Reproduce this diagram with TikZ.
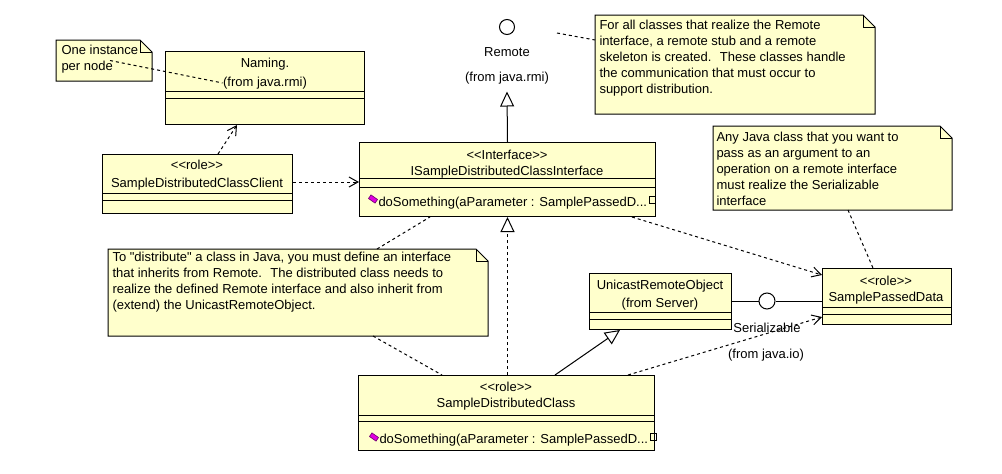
\documentclass[tikz,border=0pt]{standalone}
\usepackage{fontspec}
\newfontfamily\umlfont{Liberation Sans}
\usetikzlibrary{arrows.meta}
\definecolor{umlfill}{RGB}{255,255,204}
\definecolor{opfill}{RGB}{224,0,224}
\definecolor{opline}{RGB}{110,0,110}
% note with a folded top-right corner, drawn round an empty node
\newcommand{\umlnote}[1]{%
  \draw[fill=umlfill] (#1.north west) -- ([xshift=-12pt]#1.north east)
    -- ([yshift=-12pt]#1.north east) -- (#1.south east) -- (#1.south west) -- cycle;
  \draw ([xshift=-12pt]#1.north east) -- ([xshift=-12pt,yshift=-12pt]#1.north east)
    -- ([yshift=-12pt]#1.north east);}
% operation marker: small tilted magenta block
\newcommand{\opmark}[1]{%
  \draw[fill=opfill,draw=opline,line width=0.6pt,rotate around={-35:(#1)}]
    ([xshift=-4pt,yshift=-2.2pt]#1) rectangle ([xshift=4pt,yshift=2.2pt]#1);}
\begin{document}
\begin{tikzpicture}[x=1pt,y=-1pt,line width=1pt,
  font=\umlfont\fontsize{13}{16}\selectfont,
  classbox/.style={draw,fill=umlfill,inner sep=0pt,anchor=north west},
  notebody/.style={inner sep=0pt,anchor=north west},
  notetext/.style={inner sep=0pt,anchor=north west,align=left},
  lbl/.style={inner sep=0pt,text height=9pt,text depth=3pt},
  optext/.style={lbl,anchor=west},
  lolli/.style={draw,fill=white,circle,inner sep=0pt},
  depend/.style={dash pattern=on 3pt off 3pt,-{Straight Barb[length=9pt,width=10pt]}},
  anchorline/.style={dash pattern=on 3pt off 3pt},
  inherit/.style={-{Triangle[open,length=15pt,width=14pt,fill=white]}},
  realize/.style={dash pattern=on 3pt off 3pt,-{Triangle[open,length=15pt,width=14pt,fill=white]}},
]
\fill[white] (0,0) rectangle (1002,474);
\useasboundingbox (0,0) rectangle (1002,474);

% ---------- classes ----------
\node[classbox,minimum width=199pt,minimum height=73pt] (naming) at (165,51) {};
\draw (naming.west |- 0,91) -- (naming.east |- 0,91);
\draw (naming.west |- 0,98) -- (naming.east |- 0,98);
\node[lbl] (namingname) at (265,64) {Naming.};
\node[lbl] (namingpkg) at (265,83) {(from java.rmi)};

\node[classbox,minimum width=190pt,minimum height=59pt] (client) at (102,154) {};
\draw (client.west |- 0,193) -- (client.east |- 0,193);
\draw (client.west |- 0,200) -- (client.east |- 0,200);
\node[lbl] (clientst) at (197,166) {<<role>>};
\node[lbl] (clientname) at (197,184) {SampleDistributedClassClient};

\node[classbox,minimum width=296pt,minimum height=74pt] (iface) at (359,142) {};
\draw (iface.west |- 0,178) -- (iface.east |- 0,178);
\draw (iface.west |- 0,187) -- (iface.east |- 0,187);
\node[lbl] (ifacest) at (507,156) {<<Interface>>};
\node[lbl] (ifacename) at (507,172) {ISampleDistributedClassInterface};
\coordinate (ifaceop) at (373,199);
\opmark{ifaceop}
\node[optext] (ifaceopname) at (378,203) {doSomething(aParameter : SamplePassedD...};
\draw[line width=0.8pt] ([xshift=1.5pt,yshift=-0.5pt]ifaceopname.east) rectangle +(6,-7) coordinate (ifacebox);

\node[classbox,minimum width=142pt,minimum height=56pt] (unicast) at (589,273) {};
\draw (unicast.west |- 0,312) -- (unicast.east |- 0,312);
\draw (unicast.west |- 0,319) -- (unicast.east |- 0,319);
\node[lbl] (unicastname) at (660,286) {UnicastRemoteObject};
\node[lbl] (unicastpkg) at (660,304) {(from Server)};

\node[classbox,minimum width=129pt,minimum height=56pt] (spd) at (822,268) {};
\draw (spd.west |- 0,307) -- (spd.east |- 0,307);
\draw (spd.west |- 0,314) -- (spd.east |- 0,314);
\node[lbl] (spdst) at (886,282) {<<role>>};
\node[lbl] (spdname) at (886,298) {SamplePassedData};

\node[classbox,minimum width=296pt,minimum height=75pt] (sdc) at (358,375) {};
\draw (sdc.west |- 0,415) -- (sdc.east |- 0,415);
\draw (sdc.west |- 0,421) -- (sdc.east |- 0,421);
\node[lbl] (sdcst) at (506,388) {<<role>>};
\node[lbl] (sdcname) at (506,404) {SampleDistributedClass};
\coordinate (sdcop) at (374,437);
\opmark{sdcop}
\node[optext] (sdcopname) at (379,440) {doSomething(aParameter : SamplePassedD...};
\draw[line width=0.8pt] ([xshift=1.5pt,yshift=-0.5pt]sdcopname.east) rectangle +(6,-7) coordinate (sdcbox);

% ---------- interfaces shown as lollipops ----------
\node[lolli,minimum size=15pt] (remote) at (507,27) {};
\node[lbl] (remotename) at (507,53) {Remote};
\node[lbl] (remotepkg) at (507,78) {(from java.rmi)};

\node[lolli,minimum size=16pt] (serial) at (767,301) {};
\node[lbl] (serialname) at (767,329) {Serializable};
\node[lbl] (serialpkg) at (766,355) {(from java.io)};

% ---------- notes ----------
\node[notebody,minimum width=95pt,minimum height=40pt] (note1) at (56,40) {};
\umlnote{note1}
\node[notetext] (note1txt) at (61,44) {\rule{0pt}{10pt}One instance\\per node};

\node[notebody,minimum width=279pt,minimum height=98pt] (note2) at (595,15) {};
\umlnote{note2}
\node[notetext] (note2txt) at (599,19) {\rule{0pt}{10pt}For all classes that realize the Remote\\
interface, a remote stub and a remote\\
skeleton is created.~ These classes handle\\
the communication that must occur to\\
support distribution.};

\node[notebody,minimum width=238pt,minimum height=83pt] (note3) at (713,126) {};
\umlnote{note3}
\node[notetext] (note3txt) at (716,131) {\rule{0pt}{10pt}Any Java class that you want to\\
pass as an argument to an\\
operation on a remote interface\\
must realize the Serializable\\
interface};

\node[notebody,minimum width=379pt,minimum height=86pt] (note4) at (108,249) {};
\umlnote{note4}
\node[notetext] (note4txt) at (112,251) {\rule{0pt}{10pt}To "distribute" a class in Java, you must define an interface\\
that inherits from Remote.~ The distributed class needs to\\
realize the defined Remote interface and also inherit from\\
(extend) the UnicastRemoteObject.};

% ---------- connectors ----------
\draw[depend] (218,0 |- client.north) -- (237,0 |- naming.south);
\draw[depend] (client.east |- 0,182) -- (iface.west |- 0,182);
\draw[inherit] (iface.north) -- ([yshift=-7pt]remotepkg.south);
\draw[realize] (sdc.north -| iface.south) -- (iface.south);
\draw[inherit] (555,0 |- sdc.north) -- (620,0 |- unicast.south);
\draw[depend] (632,0 |- iface.south) -- (spd.west |- 0,275);
\draw[depend] (628,0 |- sdc.north) -- (spd.west |- 0,317);
\draw (unicast.east |- serial.west) -- (serial.west);
\draw (serial.east) -- (spd.west |- serial.east);

\draw[anchorline] (110,0 |- note1.center) -- (namingpkg.west);
\coordinate (remotetail) at (557,33);
\draw[anchorline] (remotetail) -- (note2.west |- 0,40);
\draw[anchorline] (848,0 |- note3.south) -- (873,0 |- spd.north);
\draw[anchorline] (377,0 |- note4.north) -- (430,0 |- iface.south);
\draw[anchorline] (373,0 |- note4.south) -- (442,0 |- sdc.north);
\end{tikzpicture}
\end{document}
